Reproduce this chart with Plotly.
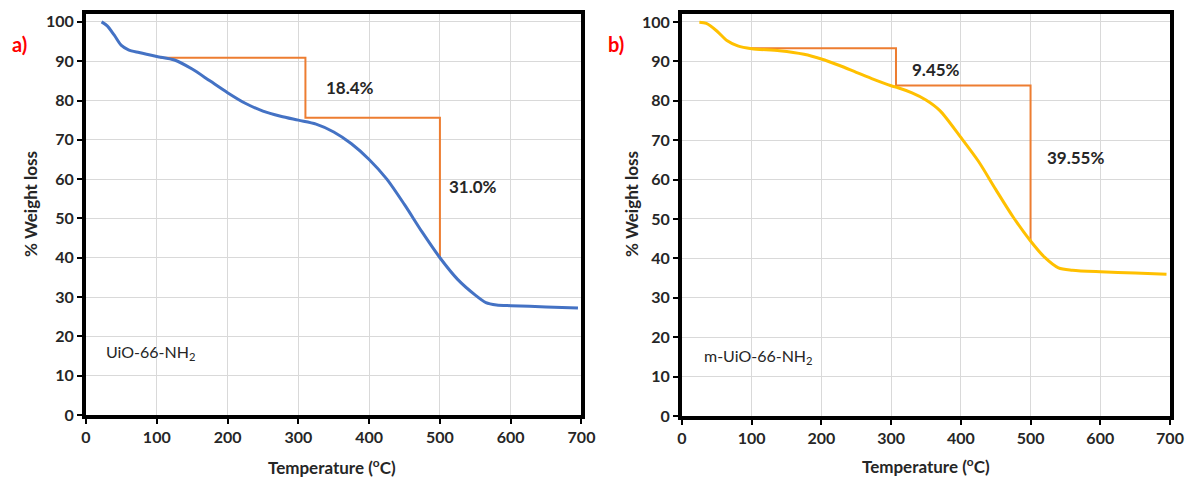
import plotly.graph_objects as go

# --- TGA curve of UiO-66-NH2 ---
temp_a = [22, 30, 40, 50, 60, 75, 100, 125, 150, 175, 200, 225, 250, 275, 300,
          325, 350, 375, 400, 425, 450, 475, 500, 525, 550, 565, 580, 600, 650, 695]
weight_a = [100, 99, 96.6, 94, 92.9, 92.2, 91.2, 90.3, 88, 85, 82, 79.3, 77.3, 76, 75,
            74, 72, 69, 65, 60, 53.5, 46.5, 40, 34.5, 30.5, 28.6, 28, 27.8, 27.5, 27.2]

# --- TGA curve of m-UiO-66-NH2 ---
temp_b = [25, 35, 50, 65, 80, 100, 140, 175, 200, 225, 250, 275, 300, 310, 330, 350,
          370, 400, 425, 450, 475, 500, 520, 540, 560, 600, 650, 695]
weight_b = [99.9, 99.6, 97.7, 95.2, 93.9, 93.2, 92.7, 91.8, 90.6, 89, 87.2, 85.4, 83.8,
            83.3, 82, 80.2, 77.5, 70.7, 64.7, 57.5, 50.5, 44.4, 40.3, 37.6, 37.0, 36.6,
            36.3, 36.0]

# Step markers for the two weight-loss stages: (T start, T mid, T end) and levels
step_temp_a = [105, 310, 500]
step_level_a = [90.9, 75.6, 39.8]
loss_labels_a = ["18.4%", "31.0%"]

step_temp_b = [98, 307, 500]
step_level_b = [93.3, 83.85, 44.3]
loss_labels_b = ["9.45%", "39.55%"]

sample_a = "UiO-66-NH<sub>2</sub>"
sample_b = "m-UiO-66-NH<sub>2</sub>"

x_ticks = [0, 100, 200, 300, 400, 500, 600, 700]
y_ticks = [0, 10, 20, 30, 40, 50, 60, 70, 80, 90, 100]

FONT = "Lato"
ORANGE = "#ED7D31"
TEXT = "#262626"
W, H = 1186, 480


def step_path(t, lv):
    xs = [t[0], t[1], t[1], t[2], t[2]]
    ys = [lv[0], lv[0], lv[1], lv[1], lv[2]]
    return xs, ys


fig = go.Figure()

sx, sy = step_path(step_temp_a, step_level_a)
fig.add_trace(go.Scatter(x=sx, y=sy, mode="lines", line=dict(color=ORANGE, width=2),
                         xaxis="x", yaxis="y", hoverinfo="skip"))
fig.add_trace(go.Scatter(x=temp_a, y=weight_a, mode="lines",
                         line=dict(color="#4472C4", width=3, shape="spline", smoothing=0.8),
                         xaxis="x", yaxis="y"))

sx, sy = step_path(step_temp_b, step_level_b)
fig.add_trace(go.Scatter(x=sx, y=sy, mode="lines", line=dict(color=ORANGE, width=2),
                         xaxis="x2", yaxis="y2", hoverinfo="skip"))
fig.add_trace(go.Scatter(x=temp_b, y=weight_b, mode="lines",
                         line=dict(color="#FFC000", width=3, shape="spline", smoothing=0.8),
                         xaxis="x2", yaxis="y2"))

tick_font = dict(family=FONT, size=16, color=TEXT, weight="bold")
axis_common = dict(showline=True, linecolor="black", linewidth=4, mirror=True,
                   showgrid=True, gridcolor="#D9D9D9", gridwidth=1,
                   ticks="outside", ticklen=5, tickwidth=2, tickcolor="black",
                   tickfont=tick_font, zeroline=False, fixedrange=True,
                   automargin=False)

fig.update_layout(
    width=W, height=H,
    margin=dict(l=0, r=0, t=0, b=0, autoexpand=False),
    paper_bgcolor="white", plot_bgcolor="white",
    showlegend=False,
    xaxis=dict(domain=[0.0725, 0.4903], range=[0, 700], tickvals=x_ticks,
               anchor="y", **axis_common),
    yaxis=dict(domain=[0.1354, 0.9708], range=[0, 102], tickvals=y_ticks,
               anchor="x", **axis_common),
    xaxis2=dict(domain=[0.5750, 0.9865], range=[0, 700], tickvals=x_ticks,
                anchor="y2", **axis_common),
    yaxis2=dict(domain=[0.1333, 0.9708], range=[0, 102], tickvals=y_ticks,
                anchor="x2", **axis_common),
)

label_font = dict(family=FONT, size=17, color=TEXT, weight="bold")
title_font = dict(family=FONT, size=17, color=TEXT, weight="bold")
name_font = dict(family=FONT, size=16, color=TEXT)
ann = []


def paper_text(px, py, text, font, angle=0):
    """Text centred on a pixel position of the figure."""
    return dict(x=px / W, y=1 - py / H, xref="paper", yref="paper", text=text,
                xanchor="center", yanchor="middle", textangle=angle,
                showarrow=False, font=font)


# loss percentages next to the step markers
ann.append(dict(x=373, y=83.4, xref="x", yref="y", text=loss_labels_a[0],
                showarrow=False, font=label_font))
ann.append(dict(x=547, y=58.2, xref="x", yref="y", text=loss_labels_a[1],
                showarrow=False, font=label_font))
ann.append(dict(x=364, y=87.8, xref="x2", yref="y2", text=loss_labels_b[0],
                showarrow=False, font=label_font))
ann.append(dict(x=564, y=65.6, xref="x2", yref="y2", text=loss_labels_b[1],
                showarrow=False, font=label_font))

# sample names
ann.append(dict(x=26, y=15.8, xref="x", yref="y", text=sample_a, xanchor="left",
                showarrow=False, font=name_font))
ann.append(dict(x=29, y=15, xref="x2", yref="y2", text=sample_b, xanchor="left",
                showarrow=False, font=name_font))

# panel letters
letter_font = dict(family=FONT, size=20, color="#FF0000", weight="bold")
ann.append(paper_text(19, 44, "a)", letter_font))
ann.append(paper_text(616, 44, "b)", letter_font))

# axis titles
ann.append(paper_text(30, 204, "% Weight loss", title_font, -90))
ann.append(paper_text(631, 204, "% Weight loss", title_font, -90))
ann.append(paper_text(332, 466, "Temperature (<sup>o</sup>C)", title_font))
ann.append(paper_text(926, 465, "Temperature (<sup>o</sup>C)", title_font))

fig.update_layout(annotations=ann)
fig.write_html("out.html")
